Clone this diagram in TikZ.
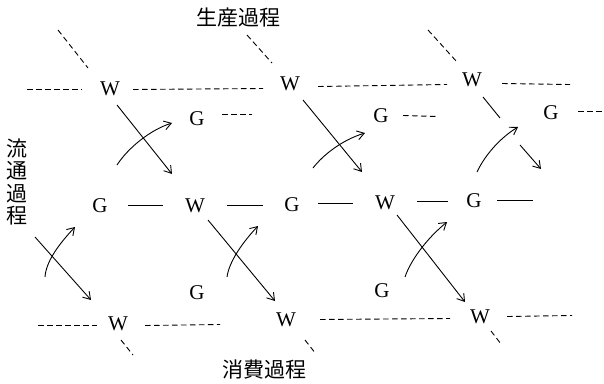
\documentclass[tikz,border=0pt]{standalone}
\usepackage{fontspec}
\setmainfont{Liberation Serif}
\newfontfamily\cjk{Noto Sans CJK JP}
\usetikzlibrary{arrows.meta}
\begin{document}
\begin{tikzpicture}[x=1pt,y=-1pt,
  lbl/.style={font=\fontsize{21}{22}\selectfont, inner sep=0pt},
  cjklbl/.style={font=\cjk\fontsize{21}{22.5}\selectfont, inner sep=0pt, align=center},
  dsh/.style={line width=0.9pt, dash pattern=on 5.5pt off 3.5pt},
  sol/.style={line width=0.9pt},
  arr/.style={line width=0.9pt, -{Straight Barb[length=7pt,width=9pt,line width=0.9pt]}},
  ]
\useasboundingbox (0,0) rectangle (604,383);
% labels
\node[cjklbl] (prod) at (238,18) {生産過程};
\node[cjklbl] (cons) at (264,370) {消費過程};
\node[cjklbl] (circ) at (17,182) {流\\通\\過\\程};
% top row
\node[lbl] (Wa) at (110,89) {W};
\node[lbl] (Wb) at (290,84) {W};
\node[lbl] (Wc) at (472,80) {W};
% second row
\node[lbl] (Ga) at (197,119) {G};
\node[lbl] (Gb) at (381,116) {G};
\node[lbl] (Gc) at (551,113) {G};
% middle row
\node[lbl] (Gm1) at (100,206) {G};
\node[lbl] (Wm1) at (195,206) {W};
\node[lbl] (Gm2) at (292,205) {G};
\node[lbl] (Wm2) at (385,203) {W};
\node[lbl] (Gm3) at (474,201) {G};
% bottom G
\node[lbl] (Gd1) at (197,293) {G};
\node[lbl] (Gd2) at (382,291) {G};
% bottom row
\node[lbl] (Wd1) at (118,324) {W};
\node[lbl] (Wd2) at (286,320) {W};
\node[lbl] (Wd3) at (480,317) {W};

% top dashed lines
\draw[dsh] (27,89.5) -- (82,89.5);
\draw[dsh] (133,89.5) -- (263,88.5);
\draw[dsh] (318,86.5) -- (447,84.5);
\draw[dsh] (502,83.5) -- (570,84.5);
% top diagonal dashes
\draw[dsh] (58,30) -- (88,68);
\draw[dsh] (247,35) -- (272,63);
\draw[dsh] (428,30) -- (457,62);
% second row dashes
\draw[dsh] (222,114.5) -- (252,114.5);
\draw[dsh] (403,115.5) -- (437,116.5);
\draw[dsh] (578,111.5) -- (604,111.5);
% middle solid dashes
\draw[sol] (128,205.5) -- (163,205.5);
\draw[sol] (227,205.5) -- (263,205.5);
\draw[sol] (318,203.5) -- (353,203.5);
\draw[sol] (417,201.5) -- (448,201.5);
\draw[sol] (497,200.5) -- (533,200.5);
% bottom dashed lines
\draw[dsh] (38,325.5) -- (97,325.5);
\draw[dsh] (145,325.5) -- (220,324.5);
\draw[dsh] (320,319.5) -- (450,318.5);
\draw[dsh] (507,316.5) -- (572,315.5);
% bottom diagonal dashes
\draw[dsh] (121,340) -- (133,355);
\draw[dsh] (305,340) -- (316,354);
\draw[dsh] (491,331) -- (501,344);

% arrows top-left
\draw[arr] (117,105) -- (172,174);
\draw[arr] (117,165) .. controls (128,148) and (150,130) .. (172,123);
% arrows top-middle
\draw[arr] (303,100) -- (362,172);
\draw[arr] (313,168) .. controls (323,155) and (342,140) .. (365,133);
% arrows top-right
\draw[sol] (483,97) -- (500,118);
\draw[arr] (520,145) -- (541,169);
\draw[arr] (477,172) .. controls (485,155) and (500,138) .. (518,127);
% arrows bottom-left
\draw[arr] (35,237) -- (91,300);
\draw[arr] (45,277) .. controls (46,262) and (58,245) .. (75,227);
% arrows bottom-middle
\draw[arr] (208,220) -- (275,301);
\draw[arr] (227,277) .. controls (229,262) and (242,243) .. (258,226);
% arrows bottom-right
\draw[arr] (397,215) -- (465,302);
\draw[arr] (405,277) .. controls (410,262) and (425,240) .. (447,222);
\end{tikzpicture}
\end{document}
